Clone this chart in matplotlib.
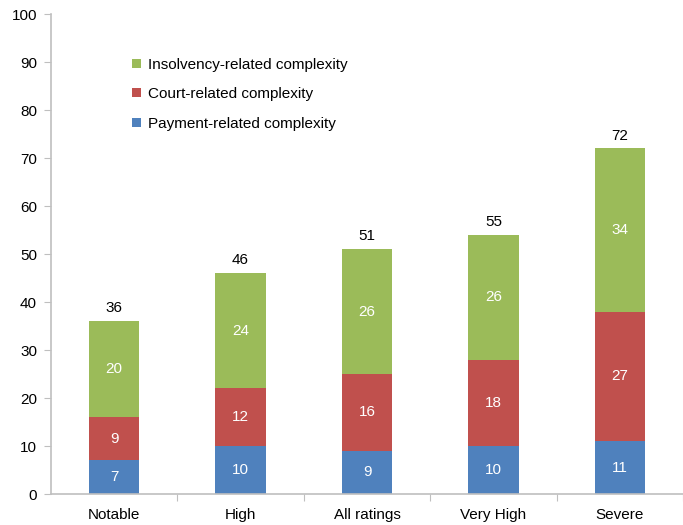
import numpy as np
import matplotlib.pyplot as plt

plt.rcParams["font.family"] = ["Liberation Sans", "DejaVu Sans"]

categories = ["Notable", "High", "All ratings", "Very High", "Severe"]
payment = [7, 10, 9, 10, 11]
court = [9, 12, 16, 18, 27]
insolvency = [20, 24, 26, 26, 34]
totals = [36, 46, 51, 55, 72]

blue = "#4F81BD"
red = "#C0504D"
green = "#9BBB59"
grey = "#BFBFBF"


def stacked_chart():
    fig = plt.figure(figsize=(6.83, 5.25), dpi=100)
    ax = fig.add_axes([51 / 683, 1 - 494 / 525, 1 - 51 / 683, 480 / 525])

    x = np.arange(len(categories))
    w = 0.4
    pay = np.array(payment)
    crt = np.array(court)
    ins = np.array(insolvency)

    b1 = ax.bar(x, pay, w, color=blue, label="Payment-related complexity")
    b2 = ax.bar(x, crt, w, bottom=pay, color=red, label="Court-related complexity")
    b3 = ax.bar(x, ins, w, bottom=pay + crt, color=green,
                label="Insolvency-related complexity")

    for bars, vals, base in [(b1, pay, 0), (b2, crt, pay), (b3, ins, pay + crt)]:
        for i, (b, v) in enumerate(zip(bars, vals)):
            bot = base[i] if np.ndim(base) else base
            ax.text(b.get_x() + w / 2, bot + v / 2, str(v), color="white",
                    ha="center", va="center", fontsize=11)

    for i, t in enumerate(totals):
        ax.text(x[i], pay[i] + crt[i] + ins[i] + 1.2, str(t), ha="center",
                va="bottom", fontsize=11)

    ax.set_ylim(0, 100)
    ax.set_yticks(range(0, 101, 10))
    ax.set_xlim(-0.5, (683 - 51) / 128 - 0.5)
    ax.set_xticks(np.arange(0.5, 5, 1))
    ax.set_xticklabels([])
    ax.set_xticks(x, minor=True)
    ax.set_xticklabels(categories, minor=True)
    ax.tick_params(axis="x", which="minor", length=0, pad=10, labelsize=11)
    ax.tick_params(axis="x", which="major", length=5, color=grey)
    ax.tick_params(axis="y", length=5, color=grey, labelsize=11, pad=5)

    for s in ["top", "right"]:
        ax.spines[s].set_visible(False)
    for s in ["left", "bottom"]:
        ax.spines[s].set_color(grey)
        ax.spines[s].set_linewidth(1.2)

    ax.legend(handles=[b3, b2, b1], loc="upper left",
              bbox_to_anchor=(0.107, 0.937), frameon=False, fontsize=11,
              handlelength=0.55, handleheight=0.55, labelspacing=1.0,
              handletextpad=0.5)

    fig.savefig("out.png")


if __name__ == "__main__":
    stacked_chart()
